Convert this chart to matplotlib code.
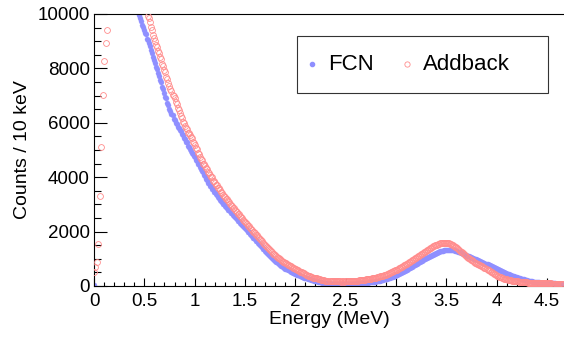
import numpy as np
import matplotlib
matplotlib.use("Agg")
import matplotlib.pyplot as plt
from matplotlib.ticker import MultipleLocator, FormatStrFormatter
from matplotlib.lines import Line2D
from matplotlib.patches import Rectangle

plt.rcParams['font.family'] = ['Liberation Sans', 'DejaVu Sans']

BIN_WIDTH = 0.01  # MeV (10 keV bins)

# ---- FCN spectrum -------------------------------------------------------
fcn_low_energy = [0.00]
fcn_low_counts = [20]

FCN_START = 0.45
fcn_counts = [
    9980, 9870, 9760, 9610, 9520,
    9420, 9300, 9250, 9090, 9050, 8930, 8840, 8680, 8580, 8410,
    8300, 8200, 8060, 7980, 7820, 7730, 7590, 7490, 7330, 7240,
    7100, 6960, 6900, 6730, 6660, 6510, 6450, 6330, 6290, 6150,
    6100, 6000, 5970, 5860, 5820, 5720, 5690, 5580, 5550, 5450,
    5400, 5310, 5280, 5150, 5120, 5040, 4970, 4900, 4850, 4780,
    4750, 4650, 4610, 4490, 4470, 4370, 4310, 4210, 4180, 4080,
    4030, 3950, 3910, 3800, 3780, 3690, 3660, 3580, 3550, 3470,
    3450, 3390, 3350, 3270, 3240, 3180, 3130, 3100, 3020, 3000,
    2950, 2910, 2870, 2810, 2790, 2740, 2700, 2680, 2600, 2590,
    2540, 2490, 2470, 2400, 2380, 2330, 2280, 2260, 2190, 2170,
    2130, 2080, 2060, 1990, 1970, 1930, 1880, 1850, 1780, 1760,
    1720, 1670, 1650, 1580, 1560, 1510, 1460, 1440, 1370, 1350,
    1300, 1260, 1230, 1170, 1150, 1100, 1060, 1040, 980, 960,
    920, 890, 870, 830, 810, 770, 750, 730, 690, 670,
    640, 620, 610, 580, 570, 540, 530, 510, 490, 470,
    450, 430, 420, 400, 390, 370, 360, 340, 330, 310,
    300, 280, 280, 260, 260, 240, 230, 210, 210, 190,
    180, 170, 170, 150, 150, 140, 140, 120, 120, 110,
    110, 100, 105, 95, 95, 90, 90, 85, 85, 80,
    80, 78, 80, 74, 76, 75, 77, 72, 76, 74,
    75, 78, 76, 80, 78, 80, 84, 82, 86, 88,
    90, 92, 92, 96, 98, 100, 104, 106, 112, 116,
    120, 122, 128, 130, 136, 140, 146, 152, 158, 164,
    170, 176, 186, 192, 202, 210, 220, 230, 242, 250,
    260, 270, 284, 292, 308, 320, 334, 346, 364, 376,
    390, 406, 426, 440, 464, 480, 502, 520, 544, 560,
    580, 602, 626, 646, 672, 690, 714, 734, 760, 778,
    800, 822, 846, 866, 890, 910, 934, 954, 980, 998,
    1020, 1040, 1062, 1080, 1102, 1120, 1140, 1156, 1180, 1194,
    1210, 1226, 1240, 1252, 1270, 1280, 1290, 1300, 1312, 1314,
    1320, 1326, 1322, 1330, 1318, 1320, 1316, 1310, 1306, 1296,
    1290, 1280, 1266, 1256, 1238, 1222, 1204, 1190, 1168, 1150,
    1130, 1118, 1100, 1086, 1066, 1052, 1036, 1020, 1004, 990,
    980, 962, 946, 928, 910, 894, 876, 860, 840, 826,
    810, 792, 772, 756, 736, 720, 700, 684, 664, 648,
    630, 612, 592, 576, 556, 540, 522, 506, 488, 472,
    458, 442, 428, 412, 398, 384, 370, 356, 342, 330,
    320, 308, 296, 284, 270, 260, 250, 240, 228, 220,
    210, 202, 192, 186, 176, 170, 164, 156, 150, 146,
    140, 136, 132, 128, 124, 120, 118, 114, 110, 108,
    105, 104, 100, 100, 96, 95, 94, 92, 92, 90,
    90, 88, 88, 86, 86, 85, 84,
]

# ---- Addback spectrum ---------------------------------------------------
addback_low_energy = [0.00, 0.01, 0.03, 0.04, 0.06, 0.07, 0.09, 0.10, 0.12, 0.13]
addback_low_counts = [530, 690, 870, 1540, 3320, 5100, 7020, 8280, 8930, 9420]

ADDBACK_START = 0.54
addback_counts = [
    9930, 9850, 9720, 9530, 9420, 9230,
    9100, 9010, 8860, 8790, 8650, 8560, 8410, 8330, 8170, 8090,
    7950, 7850, 7690, 7620, 7460, 7360, 7240, 7180, 7010, 6970,
    6900, 6770, 6700, 6550, 6480, 6350, 6240, 6190, 6030, 5980,
    5900, 5810, 5780, 5640, 5620, 5550, 5460, 5430, 5290, 5270,
    5200, 5090, 5040, 4900, 4860, 4750, 4660, 4630, 4490, 4470,
    4400, 4320, 4290, 4180, 4160, 4080, 4010, 3990, 3870, 3860,
    3800, 3730, 3700, 3610, 3590, 3520, 3460, 3430, 3350, 3320,
    3270, 3210, 3190, 3110, 3090, 3030, 2980, 2950, 2870, 2850,
    2800, 2750, 2720, 2650, 2630, 2580, 2530, 2500, 2420, 2400,
    2360, 2310, 2290, 2210, 2190, 2150, 2100, 2070, 1990, 1970,
    1940, 1890, 1870, 1790, 1770, 1730, 1680, 1650, 1570, 1550,
    1520, 1470, 1450, 1380, 1360, 1320, 1280, 1250, 1190, 1170,
    1140, 1110, 1080, 1040, 1020, 980, 960, 930, 890, 870,
    850, 830, 810, 780, 770, 740, 720, 700, 660, 650,
    630, 610, 600, 570, 560, 530, 520, 500, 470, 460,
    430, 410, 410, 380, 380, 350, 340, 330, 310, 300,
    290, 280, 280, 260, 260, 240, 236, 230, 214, 212,
    200, 196, 198, 188, 188, 180, 180, 178, 172, 174,
    170, 170, 172, 166, 168, 165, 166, 168, 164, 168,
    170, 170, 174, 174, 178, 180, 182, 186, 186, 192,
    195, 196, 202, 204, 210, 215, 218, 226, 228, 236,
    240, 244, 252, 256, 264, 270, 276, 286, 292, 302,
    310, 316, 330, 336, 350, 360, 370, 386, 394, 412,
    420, 432, 452, 464, 486, 500, 516, 538, 552, 576,
    590, 606, 632, 648, 674, 690, 710, 736, 754, 782,
    800, 820, 848, 868, 896, 920, 940, 968, 988, 1016,
    1040, 1060, 1088, 1108, 1136, 1160, 1182, 1212, 1234, 1266,
    1290, 1310, 1340, 1360, 1390, 1410, 1428, 1454, 1470, 1494,
    1510, 1522, 1540, 1552, 1568, 1580, 1584, 1594, 1590, 1596,
    1590, 1588, 1574, 1568, 1546, 1530, 1512, 1490, 1468, 1442,
    1420, 1392, 1364, 1330, 1296, 1260, 1232, 1196, 1166, 1130,
    1100, 1070, 1046, 1014, 990, 960, 938, 910, 890, 862,
    840, 822, 800, 782, 758, 740, 718, 692, 670, 644,
    620, 598, 572, 550, 522, 500, 478, 452, 428, 404,
    380, 366, 348, 332, 316, 300, 290, 274, 262, 250,
    240, 232, 224, 216, 208, 200, 196, 188, 184, 176,
    170, 168, 162, 160, 154, 150, 148, 142, 138, 134,
    130, 128, 124, 122, 118, 115, 114, 110, 108, 106,
    105, 104, 102, 102, 100, 100, 98, 98, 96, 96,
    95, 94, 94, 92, 92, 90, 90, 90, 90, 90,
    90, 90, 90, 90, 90, 90, 90,
]

x_ticks = [0, 0.5, 1, 1.5, 2, 2.5, 3, 3.5, 4, 4.5]
y_ticks = [0, 2000, 4000, 6000, 8000, 10000]

FCN_COLOR = '#8f8fff'
ADD_COLOR = '#ff8c8c'


def bin_energies(start, n):
    first = int(round(start / BIN_WIDTH))
    return (first + np.arange(n)) * BIN_WIDTH


fcn_e = np.concatenate([fcn_low_energy, bin_energies(FCN_START, len(fcn_counts))])
fcn_c = np.concatenate([fcn_low_counts, fcn_counts])
add_e = np.concatenate([addback_low_energy, bin_energies(ADDBACK_START, len(addback_counts))])
add_c = np.concatenate([addback_low_counts, addback_counts])

fig = plt.figure(figsize=(5.64, 3.38), dpi=100)
ax = fig.add_axes([94 / 564, 1 - 286 / 338, 1 - 94 / 564, (286 - 14) / 338])

ax.plot(fcn_e, fcn_c, linestyle='none', marker='o', ms=3.6,
        mfc=FCN_COLOR, mec=FCN_COLOR, mew=0.3, label='FCN', zorder=2)
ax.plot(add_e, add_c, linestyle='none', marker='o', ms=4.2,
        mfc='none', mec=ADD_COLOR, mew=0.6, label='Addback', zorder=3)

ax.set_xlim(0, 4.67)
ax.set_ylim(0, 10000)
ax.set_xticks(x_ticks)
ax.set_yticks(y_ticks)
ax.xaxis.set_major_formatter(FormatStrFormatter('%g'))
ax.xaxis.set_minor_locator(MultipleLocator(0.1))
ax.yaxis.set_minor_locator(MultipleLocator(500))

ax.tick_params(axis='x', which='major', direction='in', length=5.8, width=0.8,
               labelsize=13.5, pad=5)
ax.tick_params(axis='x', which='minor', direction='in', length=2.9, width=0.8)
ax.tick_params(axis='y', which='major', direction='in', length=9.4, width=0.8,
               labelsize=13.5, pad=3)
ax.tick_params(axis='y', which='minor', direction='in', length=4.7, width=0.8)

for side in ('left', 'bottom', 'top'):
    ax.spines[side].set_linewidth(0.8)
    ax.spines[side].set_color('black')
ax.spines['right'].set_visible(False)

ax.set_xlabel('Energy (MeV)', fontsize=14, labelpad=1)
ax.set_ylabel('Counts / 10 keV', fontsize=14, labelpad=5)

# Legend box
W, H = 564, 338
fig.add_artist(Rectangle((297 / W, 1 - 93 / H), (548 - 297) / W, (93 - 36) / H,
                         transform=fig.transFigure, fill=True, facecolor='white',
                         edgecolor='#333333', linewidth=0.8, zorder=5))
ly = 1 - 64 / H
fig.add_artist(Line2D([312 / W], [ly], transform=fig.transFigure, marker='o',
                      ms=3.0, mfc=FCN_COLOR, mec=FCN_COLOR, linestyle='none', zorder=6))
fig.text(328 / W, ly, 'FCN', fontsize=16, va='center', ha='left', zorder=6)
fig.add_artist(Line2D([407 / W], [ly], transform=fig.transFigure, marker='o',
                      ms=3.8, mfc='none', mec=ADD_COLOR, mew=0.6, linestyle='none', zorder=6))
fig.text(423 / W, ly, 'Addback', fontsize=16, va='center', ha='left', zorder=6)

fig.savefig('out.png', dpi=100)
